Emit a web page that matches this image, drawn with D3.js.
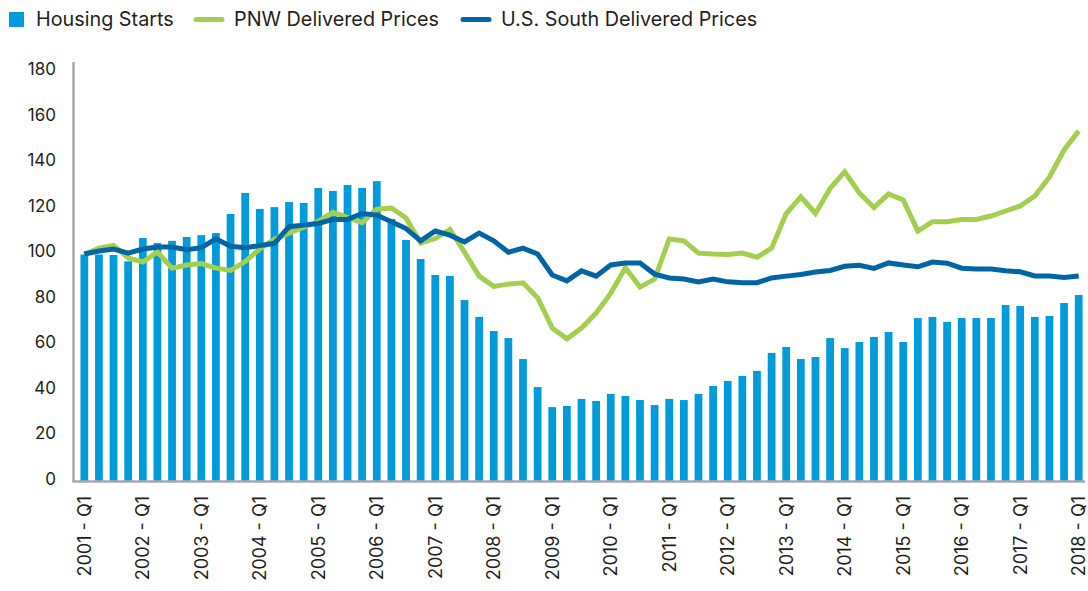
<!DOCTYPE html>
<html>
<head>
<meta charset="utf-8">
<script src="https://cdn.jsdelivr.net/npm/d3@7"></script>
<style>
  html, body { margin: 0; padding: 0; background: #fff; }
  svg { display: block; }
  text { font-family: Inter, "Noto Sans", sans-serif; fill: #231f20; }
</style>
</head>
<body>
<svg id="chart" width="1088" height="591"></svg>
<script>
// ---- Data ----
const years = d3.range(2001, 2019);
const quarters = [];
years.forEach(y => { [1,2,3,4].forEach(q => { if (!(y === 2018 && q > 1)) quarters.push(y + " - Q" + q); }); });

const housingStarts = [
  99, 99, 98.8, 96, 106.2, 104, 105, 106.7, 107.5, 108.4,
  116.8, 126, 119, 119.8, 122, 121.6, 128.2, 126.9, 129.5, 128.2,
  131.2, 114.6, 105.4, 97, 90, 89.6, 79, 71.6, 65.4, 62.3,
  53.1, 40.8, 32, 32.5, 35.6, 34.7, 37.8, 36.9, 35.1, 32.9,
  35.6, 35.1, 37.8, 41.3, 43.5, 45.7, 47.9, 55.8, 58.4, 53.1,
  54, 62.3, 57.9, 60.6, 62.8, 65, 60.6, 71.1, 71.6, 69.4,
  71.1, 71.1, 71.1, 76.8, 76.4, 71.6, 72, 77.7, 81.2
];

const pnwPrices = [
  99, 101.8, 103, 97.5, 95.7, 100.1, 93, 94.4, 95, 93,
  92, 95.9, 101.4, 105.7, 108.4, 111, 113.5, 117.5, 115.3, 113,
  118.9, 119.4, 115, 104, 106, 110, 100, 89.5, 85, 86,
  86.6, 80, 66.7, 62, 66.7, 73.3, 82, 93.2, 84.7, 88.2,
  105.8, 105, 99.6, 99.2, 99, 99.6, 97.8, 101.8, 117, 124.3,
  117, 128, 135.3, 126, 119.6, 125.6, 123, 109.3, 113.4, 113.4,
  114.4, 114.4, 115.9, 118.1, 120.3, 124.7, 133, 144.9, 153.2
];

const southPrices = [
  99.2, 100.5, 101.4, 99.6, 101.4, 102.3, 102.3, 101.1, 102, 105.9,
  102.6, 102, 102.9, 103.9, 111.2, 111.9, 112.6, 114.4, 114.4, 117,
  116.3, 113.4, 110.4, 105, 109.3, 107.5, 104.5, 108.4, 105, 100,
  101.8, 99.2, 90, 87.4, 91.8, 89.5, 94.4, 95.3, 95.3, 90.4,
  88.7, 88.2, 86.9, 88.2, 87, 86.6, 86.6, 88.7, 89.5, 90.2,
  91.3, 92, 93.8, 94.3, 92.9, 95.3, 94.4, 93.6, 95.7, 95.2,
  93, 92.6, 92.6, 91.9, 91.4, 89.6, 89.6, 88.9, 89.6
];

const yTicks = [0, 20, 40, 60, 80, 100, 120, 140, 160, 180];
const seriesNames = ["Housing Starts", "PNW Delivered Prices", "U.S. South Delivered Prices"];

// ---- Styles ----
const colBars = "#009bdb";
const colPNW = "#a4cf4e";
const colSouth = "#0065a4";
const colAxis = "#a7a9ac";

const svg = d3.select("#chart");

const x = d3.scaleBand()
  .domain(quarters)
  .range([77, 1086])
  .paddingInner(0.47)
  .paddingOuter(0.235);

const y = d3.scaleLinear().domain([0, 180]).range([480, 70]);

const cx = (d) => x(d) + x.bandwidth() / 2;

// Bars
svg.append("g").selectAll("rect")
  .data(housingStarts)
  .join("rect")
  .attr("x", (d, i) => x(quarters[i]))
  .attr("width", x.bandwidth())
  .attr("y", d => y(d))
  .attr("height", d => y(0) - y(d) + 1)
  .attr("fill", colBars);

// Axes lines
svg.append("line").attr("x1", 73.5).attr("x2", 73.5).attr("y1", 62).attr("y2", 482)
  .attr("stroke", colAxis).attr("stroke-width", 2.5);
svg.append("line").attr("x1", 72.5).attr("x2", 1085).attr("y1", 481.5).attr("y2", 481.5)
  .attr("stroke", colAxis).attr("stroke-width", 2.5);

// Lines
const line = d3.line().x((d, i) => cx(quarters[i])).y(d => y(d));
svg.append("path").datum(pnwPrices).attr("d", line)
  .attr("fill", "none").attr("stroke", colPNW).attr("stroke-width", 5).attr("stroke-linejoin", "miter");
svg.append("path").datum(southPrices).attr("d", line)
  .attr("fill", "none").attr("stroke", colSouth).attr("stroke-width", 5).attr("stroke-linejoin", "miter");

// Y tick labels
svg.append("g").selectAll("text")
  .data(yTicks)
  .join("text")
  .attr("x", 56)
  .attr("y", d => y(d) - 1)
  .attr("dy", "0.35em")
  .attr("text-anchor", "end")
  .style("font-size", "17px")
  .text(d => d);

// X tick labels
svg.append("g").selectAll("text")
  .data(quarters.filter((q, i) => i % 4 === 0))
  .join("text")
  .attr("transform", d => `translate(${cx(d)},496) rotate(-90)`)
  .attr("dy", "0.36em")
  .attr("text-anchor", "end")
  .style("font-size", "18px")
  .text(d => d);

// Legend
const lg = svg.append("g");
lg.append("rect").attr("x", 9).attr("y", 12).attr("width", 15).attr("height", 15).attr("fill", colBars);
lg.append("text").attr("x", 36).attr("y", 19.5).attr("dy", "0.35em").style("font-size", "19.8px").text(seriesNames[0]);
lg.append("line").attr("x1", 196).attr("x2", 222).attr("y1", 19.5).attr("y2", 19.5)
  .attr("stroke", colPNW).attr("stroke-width", 5).attr("stroke-linecap", "round");
lg.append("text").attr("x", 234).attr("y", 19.5).attr("dy", "0.35em").style("font-size", "19.8px").text(seriesNames[1]);
lg.append("line").attr("x1", 463).attr("x2", 489).attr("y1", 19.5).attr("y2", 19.5)
  .attr("stroke", colSouth).attr("stroke-width", 5).attr("stroke-linecap", "round");
lg.append("text").attr("x", 501).attr("y", 19.5).attr("dy", "0.35em").style("font-size", "19.8px").text(seriesNames[2]);
</script>
</body>
</html>
